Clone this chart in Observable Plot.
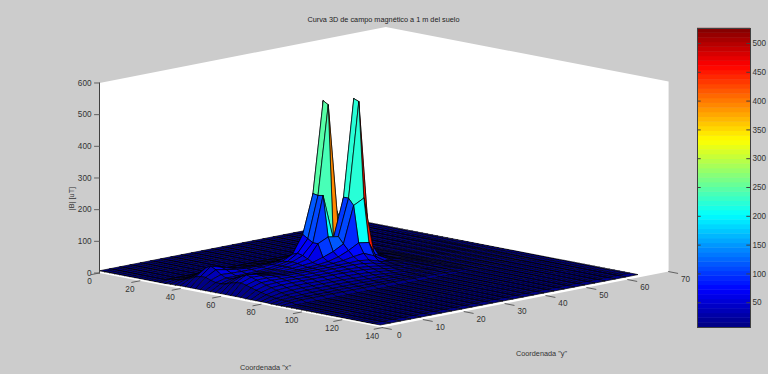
<!DOCTYPE html>
<html><head><meta charset="utf-8">
<script src="https://cdn.jsdelivr.net/npm/d3@7"></script>
<script src="https://cdn.jsdelivr.net/npm/@observablehq/plot@0.6"></script>
<style>
html,body{margin:0;padding:0;background:#cccccc;overflow:hidden}
#wrap{position:relative;width:768px;height:374px;background:#cccccc}
#wrap svg{position:absolute;top:0;background:transparent;font-family:"Liberation Sans",sans-serif}
</style></head><body><div id="wrap"></div>
<script>
// Data
const xTicks = [0,20,40,60,80,100,120,140];
const yTicks = [0,10,20,30,40,50,60,70];
const zTicks = [0,100,200,300,400,500,600];
const barTicks = [50,100,150,200,250,300,350,400,450,500];
const colorDomain = [7,526];
const floorValue = 7;
const xStep = 2.5, xCount = 56, xEnd = 139;   // x = 0 .. 139
const yStep = 2.5, yCount = 26, yEnd = 63;    // y = 0 .. 63
// measured field |B| around the conductors: x = 30..90 (rows), y = 0..45 (columns)
const fieldX0 = 12; // index of x = 30
const field = [
[7,11,11,11,11,11,11,11,11,11,11,11,11,11,11,10,10,10,9],
[7,12,13,13,12,12,12,12,12,12,12,12,12,12,11,11,10,10,9],
[8,15,18,17,15,14,14,14,14,14,14,14,14,14,13,12,11,10,9],
[8,20,28,25,21,19,18,18,18,18,19,20,20,18,15,13,12,11,9],
[9,26,40,35,29,26,25,25,25,26,27,28,27,22,17,15,13,11,9],
[9,34,56,48,38,34,32,32,32,33,36,38,36,28,21,17,14,12,10],
[9,38,64,55,45,41,39,39,39,40,44,50,52,38,26,20,16,13,10],
[9,38,56,50,45,42,41,42,44,52,62,90,140,70,36,24,17,13,10],
[9,32,44,42,41,41,42,44,48,64,120,243,530,200,120,40,19,14,10],
[9,28,36,36,37,38,40,44,50,70,110,240,520,120,200,80,32,18,11],
[9,27,36,38,38,39,41,45,52,66,100,243,100,225,530,60,26,16,11],
[9,30,42,44,42,41,42,45,50,58,100,115,110,225,524,80,24,15,11],
[9,36,50,50,45,42,42,44,47,50,60,72,90,205,222,40,22,14,10],
[9,40,58,54,47,43,42,42,44,46,50,58,72,90,85,15,20,14,10],
[9,42,54,52,47,44,43,43,44,45,47,50,56,60,46,25,18,13,10],
[9,38,48,48,46,44,43,43,43,43,44,45,46,42,32,22,16,13,10],
[9,33,43,44,43,42,41,41,41,42,42,42,40,35,27,19,15,12,10],
[8,28,38,40,40,39,38,38,38,38,38,37,34,29,23,17,14,12,10],
[8,24,33,35,36,36,35,35,35,35,34,33,29,24,19,15,13,12,10],
[8,20,28,30,31,31,30,30,30,30,29,27,24,20,17,14,13,12,10],
[8,17,23,25,26,26,26,26,26,25,24,23,20,17,15,13,12,11,9],
[8,15,19,21,22,22,22,22,22,21,20,19,17,15,14,13,12,11,9],
[7,13,16,17,18,18,18,18,18,18,17,16,15,14,13,12,12,11,9],
[7,12,14,15,15,15,16,16,15,15,15,14,14,13,12,12,11,10,9],
[7,11,13,13,13,13,13,13,13,13,13,13,13,12,12,11,10,9,8]
];
// colour data of the faces that do not take the value of their first vertex
const faceColors = [
  {i:20,j:12,c:390},
  {i:21,j:12,c:390},
  {i:22,j:11,c:205},
  {i:22,j:14,c:450},
  {i:23,j:14,c:450},
  {i:24,j:14,c:450}
];
const labelColor = "#333333", axisColor = "#404040", tickColor = "#555555";

// View: orthographic MATLAB-like camera
const view = {x0:99, y0:272.5, xx:2.02, xy:0.39, yx:4.09, yy:-0.8, zy:-0.3167};
const px = (x,y) => view.x0 + view.xx*x + view.yx*y;
const py = (x,y,z) => view.y0 + view.xy*x + view.yy*y + view.zy*z;
const P = (x,y,z,extra={}) => ({sx:px(x,y), sy:py(x,y,z), ...extra});

const zAt = (i,j) => {
  const r = field[i-fieldX0];
  return r && r[j] !== undefined ? r[j] : floorValue;
};
const xAt = i => i===xCount-1 ? xEnd : i*xStep;
const yAt = j => j===yCount-1 ? yEnd : j*yStep;
const levels = 64;
const quant = v => {
  const t = Math.max(0,Math.min(0.9999,(v-colorDomain[0])/(colorDomain[1]-colorDomain[0])));
  return colorDomain[0] + (Math.floor(t*levels)+0.5)/levels*(colorDomain[1]-colorDomain[0]);
};
const jet = t => {
  const f = a => Math.round(255*Math.max(0,Math.min(1,a)));
  return `rgb(${f(1.5-Math.abs(4*t-3))},${f(1.5-Math.abs(4*t-2))},${f(1.5-Math.abs(4*t-1))})`;
};

// Faces, far to near
const faces = [];
let id = 0;
for (let i=0;i<xCount-1;i++) for (let j=yCount-2;j>=0;j--) {
  const o = faceColors.find(d=>d.i===i&&d.j===j);
  const c = quant(o ? o.c : zAt(i,j));
  const ring=[[i,j],[i+1,j],[i+1,j+1],[i,j+1],[i,j]];
  for (const [a,b] of ring) faces.push(P(xAt(a),yAt(b),zAt(a,b),{id,c}));
  id++;
}
const X=140,Y=70,Z=600;
const walls = [[0,0,0],[X,0,0],[X,Y,0],[X,Y,Z],[0,Y,Z],[0,0,Z],[0,0,0]].map(([x,y,z])=>P(x,y,z));
const axisLines = [[0,0,0],[0,0,Z]].map(([x,y,z])=>P(x,y,z));
const ticks = [
  ...zTicks.map((z,k)=>[P(0,0,z,{k:"z"+k}),{...P(0,0,z),sx:px(0,0)-5,k:"z"+k}]),
  ...xTicks.map((x,k)=>[P(x,0,0,{k:"x"+k}),P(x,-2,0,{k:"x"+k})]),
  ...yTicks.map((y,k)=>[P(X,y,0,{k:"y"+k}),P(X+4.5,y,0,{k:"y"+k})])
].flat();
const xLabels = xTicks.map(x=>({...P(x,0,0),t:String(x)}));
const yLabels = yTicks.map(y=>({...P(X,y,0),t:String(y)}));
const zLabels = zTicks.map(z=>({...P(0,0,z),t:String(z)}));

const fs = 8.2, ts = 7.3;
const main = Plot.plot({
  width:768,height:374,margin:0,
  x:{domain:[0,768],range:[0,768],axis:null},
  y:{domain:[0,374],range:[0,374],axis:null},
  color:{type:"linear",domain:colorDomain,interpolate:jet},
  marks:[
    Plot.line(walls,{x:"sx",y:"sy",fill:"#ffffff",stroke:"none"}),
    Plot.line(faces,{x:"sx",y:"sy",z:"id",fill:"c",stroke:"#000000",strokeWidth:0.7}),
    Plot.line(axisLines,{x:"sx",y:"sy",stroke:axisColor,strokeWidth:1}),
    Plot.line(ticks,{x:"sx",y:"sy",z:"k",stroke:tickColor,strokeWidth:0.9}),
    Plot.text(zLabels,{x:"sx",y:"sy",text:"t",dx:-8,textAnchor:"end",fill:labelColor,fontSize:fs}),
    Plot.text(xLabels,{x:"sx",y:"sy",text:"t",dx:-10,dy:8.5,fill:labelColor,fontSize:fs}),
    Plot.text(yLabels,{x:"sx",y:"sy",text:"t",dx:17,dy:7.5,fill:labelColor,fontSize:fs}),
    Plot.text(["Curva 3D de campo magnético a 1 m del suelo"],{x:[383],y:[19],text:d=>d,fill:"#222",fontSize:ts}),
    Plot.text(["|B| [uT]"],{x:[71],y:[198],text:d=>d,rotate:-90,fill:labelColor,fontSize:ts}),
    Plot.text(['Coordenada "x"'],{x:[265],y:[367],text:d=>d,fill:labelColor,fontSize:ts}),
    Plot.text(['Coordenada "y"'],{x:[541],y:[353],text:d=>d,fill:labelColor,fontSize:ts})
  ]
});
main.style.left="0px";

// Colour bar
const step = (colorDomain[1]-colorDomain[0])/levels;
const bins = d3.range(levels).map(k=>({y1:colorDomain[0]+k*step,y2:colorDomain[0]+(k+1)*step,c:colorDomain[0]+(k+0.5)*step}));
const bar = Plot.plot({
  width:71,height:374,marginLeft:0,marginRight:18,marginTop:28,marginBottom:47,
  x:{domain:[0,1],axis:null},
  y:{domain:colorDomain,ticks:barTicks,axis:null},
  color:{type:"linear",domain:colorDomain,interpolate:jet},
  marks:[
    Plot.rect(bins,{x1:0,x2:1,y1:"y1",y2:"y2",fill:"c",inset:-0.2}),
    Plot.ruleY(barTicks,{x1:0,x2:0.07,stroke:axisColor,strokeWidth:1}),
    Plot.ruleY(barTicks,{x1:0.93,x2:1,stroke:axisColor,strokeWidth:1}),
    Plot.frame({stroke:axisColor,strokeWidth:1}),
    Plot.text(barTicks,{x:1,y:d=>d,text:d=>String(d),dx:2,textAnchor:"start",fill:labelColor,fontSize:fs})
  ]
});
bar.style.left="697px";
const wrap=document.getElementById("wrap");
wrap.appendChild(main);wrap.appendChild(bar);
</script></body></html>
